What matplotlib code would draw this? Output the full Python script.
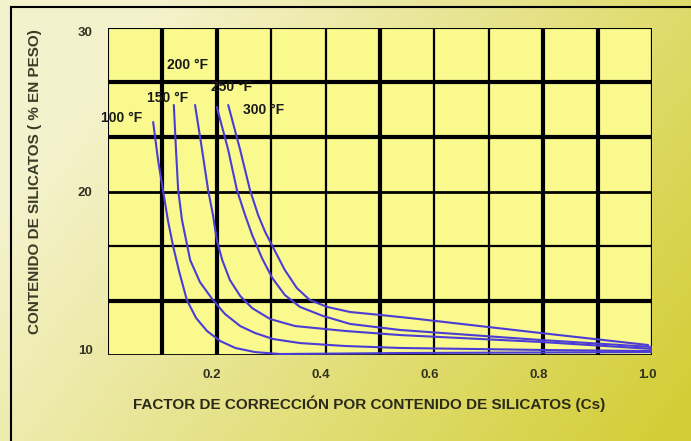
import numpy as np
import matplotlib
matplotlib.use("Agg")
import matplotlib.pyplot as plt
from matplotlib.lines import Line2D
from matplotlib.transforms import ScaledTranslation

plt.rcParams["font.family"] = ["Liberation Sans", "DejaVu Sans"]
plt.rcParams["font.weight"] = "bold"

# curves: silicate factor (x) vs silicate content (y)
x_100 = [0.083, 0.092, 0.101, 0.110, 0.120, 0.131, 0.145, 0.162, 0.182, 0.206, 0.234, 0.270, 0.316, 0.537, 1.0]
y_100 = [24.25, 21.93, 20.09, 18.26, 16.61, 15.08, 13.36, 12.26, 11.47, 10.86, 10.43, 10.18, 10.06, 10.12, 10.18]
x_150 = [0.121, 0.125, 0.129, 0.136, 0.151, 0.169, 0.193, 0.215, 0.243, 0.270, 0.303, 0.353, 0.436, 0.537, 0.794, 1.0]
y_150 = [25.29, 22.54, 20.09, 18.26, 15.81, 14.46, 13.36, 12.51, 11.77, 11.35, 10.98, 10.73, 10.55, 10.43, 10.31, 10.24]
x_200 = [0.160, 0.173, 0.184, 0.193, 0.200, 0.210, 0.224, 0.243, 0.265, 0.298, 0.344, 0.436, 0.537, 0.794, 1.0]
y_200 = [25.29, 22.54, 20.09, 18.56, 17.03, 15.81, 14.59, 13.61, 12.87, 12.20, 11.77, 11.47, 11.22, 10.80, 10.37]
x_250 = [0.200, 0.221, 0.237, 0.252, 0.265, 0.283, 0.302, 0.325, 0.353, 0.395, 0.445, 0.537, 0.794, 1.0]
y_250 = [25.17, 22.54, 20.09, 18.56, 17.34, 15.93, 14.71, 13.67, 12.94, 12.39, 11.90, 11.53, 10.92, 10.49]
x_300 = [0.221, 0.243, 0.261, 0.276, 0.289, 0.303, 0.325, 0.347, 0.371, 0.403, 0.445, 0.500, 0.555, 0.794, 0.993]
y_300 = [25.29, 22.54, 20.09, 18.56, 17.52, 16.61, 15.20, 14.10, 13.36, 12.94, 12.63, 12.45, 12.26, 11.35, 10.61]

curves = [(x_100, y_100), (x_150, y_150), (x_200, y_200), (x_250, y_250), (x_300, y_300)]
curve_labels = ["100 °F", "150 °F", "200 °F", "250 °F", "300 °F"]
label_pos = [(-0.013, 24.50), (0.072, 25.72), (0.108, 27.74), (0.189, 26.39), (0.248, 24.98)]

x_ticks = [0.2, 0.4, 0.6, 0.8, 1.0]
x_tick_labels = ["0.2", "0.4", "0.6", "0.8", "1.0"]
y_ticks = [10, 20, 30]
y_tick_labels = ["10", "20", "30"]

W, H = 691, 441
fig = plt.figure(figsize=(W / 100, H / 100), dpi=100)

# background gradient
bg = fig.add_axes([0, 0, 1, 1])
u = np.linspace(0, 1, 300)[None, :]
v = np.linspace(0, 1, 200)[:, None]
t = np.clip(0.85 * u + 0.4 * v - 0.2, 0, 1)
c0 = np.array([0.96, 0.95, 0.80])
c1 = np.array([0.83, 0.81, 0.22])
img = c0[None, None, :] * (1 - t[..., None]) + c1[None, None, :] * t[..., None]
bg.imshow(img, aspect="auto", extent=[0, 1, 0, 1], origin="upper")
bg.set_axis_off()

# outer frame (left and top edges)
fig.add_artist(Line2D([11 / W, 11 / W], [0, 1 - 7 / H], color="black", lw=1.5))
fig.add_artist(Line2D([11 / W, 1], [1 - 7 / H, 1 - 7 / H], color="black", lw=1.5))

ax = fig.add_axes([108 / W, 1 - 355 / H, 544 / W, 327 / H])
ax.set_facecolor("#f9f98e")
ax.set_xlim(0, 1.0)
ax.set_ylim(10, 30)

# grid, hand-drawn look with heavy and light lines
v_widths = [1.5, 3.0, 3.0, 1.6, 1.6, 3.0, 1.6, 1.6, 3.0, 3.0, 1.6]
for i, lw in enumerate(v_widths):
    ax.axvline(i * 0.1, color="black", lw=lw, zorder=1)
h_widths = [2.0, 3.0, 1.6, 2.0, 3.0, 3.0, 1.5]
for i, lw in enumerate(h_widths):
    ax.axhline(10 + i * 20 / 6, color="black", lw=lw, zorder=1)

for (xs, ys) in curves:
    ax.plot(xs, ys, color="#4b3cd6", lw=1.5, zorder=3,
            solid_capstyle="round", solid_joinstyle="round")

for txt, (lx, ly) in zip(curve_labels, label_pos):
    ax.text(lx, ly, txt, fontsize=10, fontweight="bold", color="#1a1a1a",
            va="center", ha="left", zorder=4, clip_on=False)

for s in ax.spines.values():
    s.set_visible(False)

ax.set_xticks(x_ticks)
ax.set_xticklabels(x_tick_labels)
ax.set_yticks(y_ticks)
ax.set_yticklabels(y_tick_labels)
ax.tick_params(length=0, labelsize=9.5, labelcolor="#333322", pad=10)
ax.tick_params(axis="y", pad=11)

# end labels of the y scale sit a little inside the frame
for lab, dy in zip(ax.get_yticklabels(), [6, 0, -4]):
    lab.set_transform(lab.get_transform() + ScaledTranslation(0, dy / 100, fig.dpi_scale_trans))
for lab in ax.get_xticklabels():
    lab.set_transform(lab.get_transform() + ScaledTranslation(-5 / 100, 0, fig.dpi_scale_trans))

ax.set_xlabel("FACTOR DE CORRECCIÓN POR CONTENIDO DE SILICATOS (Cs)",
              fontsize=11, fontweight="bold", color="#2a2a18")
ax.xaxis.set_label_coords(0.48, -0.125)
ax.set_ylabel("CONTENIDO DE SILICATOS ( % EN PESO)",
              fontsize=11, fontweight="bold", color="#3a3a28")
ax.yaxis.set_label_coords(-0.122, 0.53)

fig.savefig("out.png", dpi=100)
